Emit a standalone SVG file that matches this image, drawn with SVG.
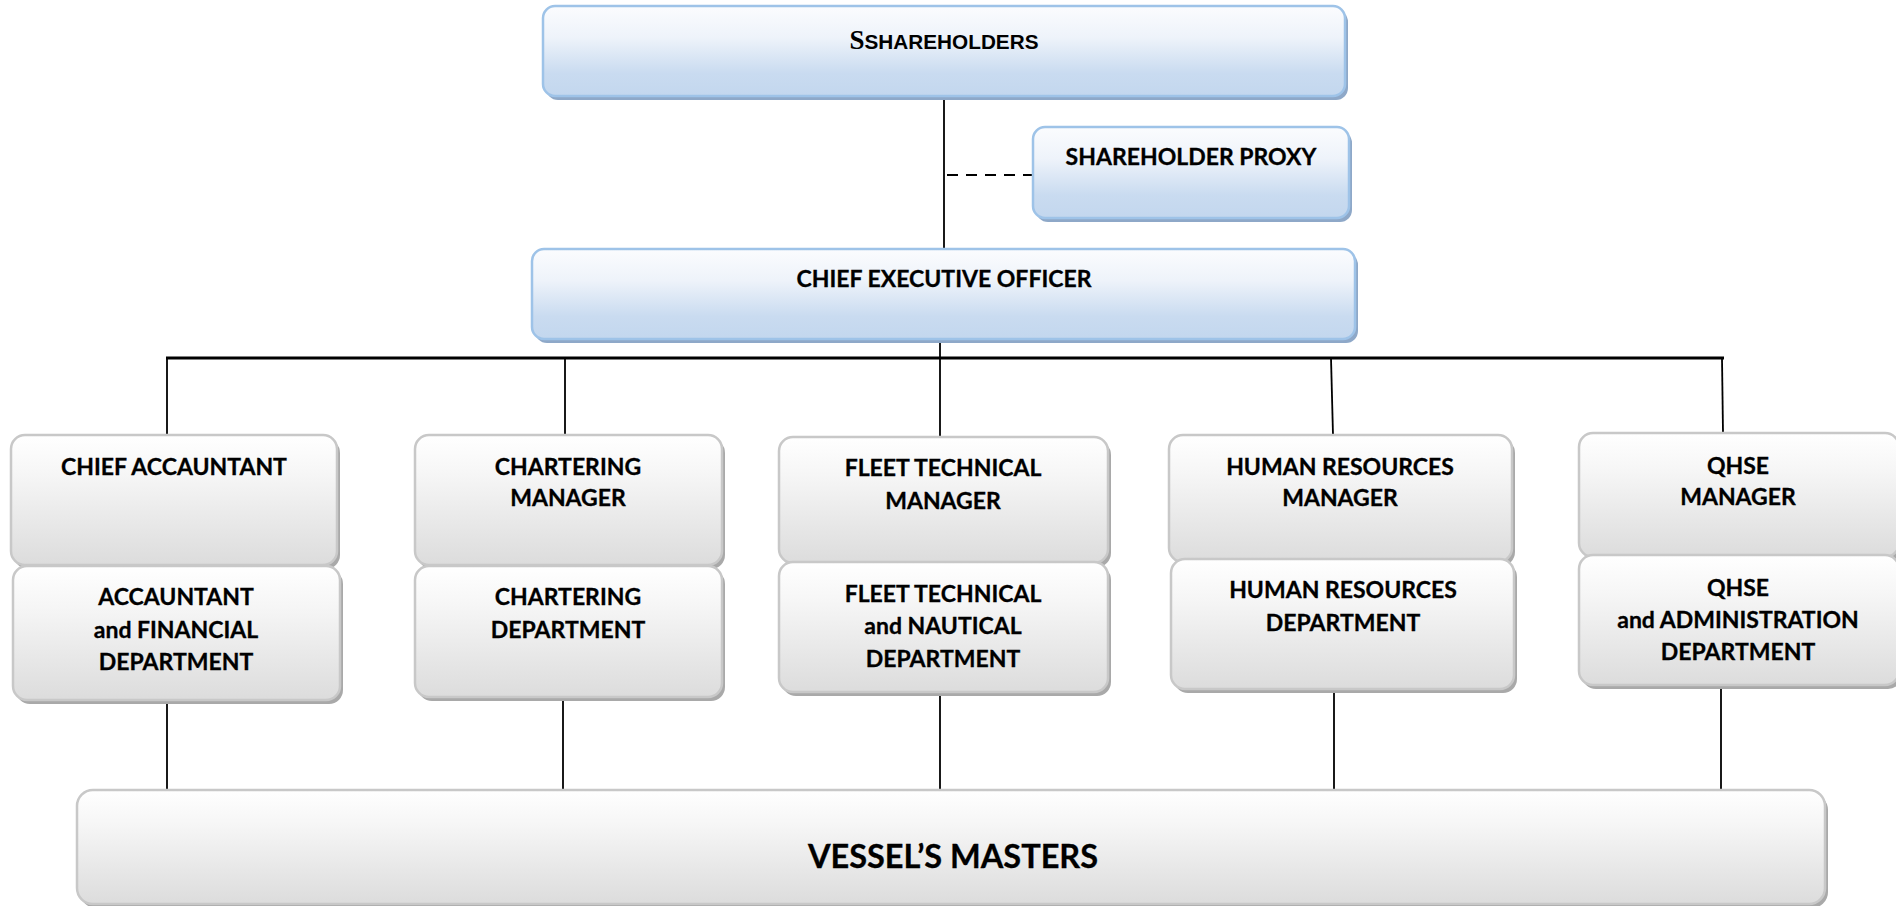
<svg xmlns="http://www.w3.org/2000/svg" width="1896" height="906" viewBox="0 0 1896 906">
<defs>
<linearGradient id="gb" x1="0" y1="0" x2="0" y2="1">
<stop offset="0" stop-color="#fbfcfe"/>
<stop offset="0.35" stop-color="#eef3fa"/>
<stop offset="0.75" stop-color="#c9dbf0"/>
<stop offset="1" stop-color="#c3d7ee"/>
</linearGradient>
<linearGradient id="gg" x1="0" y1="0" x2="0" y2="1">
<stop offset="0" stop-color="#ffffff"/>
<stop offset="0.3" stop-color="#f6f6f6"/>
<stop offset="1" stop-color="#dcdcdc"/>
</linearGradient>
<style>
.bs{fill:#8ea8c8}
.bb{fill:url(#gb);stroke:#9ec3e8;stroke-width:2.5}
.gs{fill:#a9a9a9}
.gb{fill:url(#gg);stroke:#c8c8c8;stroke-width:2.5}
.t{font-family:Lato,"Liberation Sans",sans-serif;font-weight:bold;font-size:23px;fill:#000;text-anchor:middle;stroke:#000;stroke-width:0.3}
.c{stroke:#000;stroke-width:1.8;fill:none}
</style>
</defs>
<g id="connectors">
<line class="c" x1="944" y1="97" x2="944" y2="249"/>
<line class="c" x1="947" y1="175" x2="1033" y2="175" stroke-dasharray="11,8"/>
<line class="c" x1="940" y1="340" x2="940" y2="358"/>
<line x1="166" y1="358" x2="1724" y2="358" stroke="#000" stroke-width="3"/>
<line class="c" x1="167" y1="358" x2="167" y2="435"/>
<line class="c" x1="565" y1="358" x2="565" y2="435"/>
<line class="c" x1="940" y1="358" x2="940" y2="437"/>
<line class="c" x1="1331" y1="358" x2="1333" y2="435"/>
<line class="c" x1="1722" y1="358" x2="1723" y2="433"/>
<line class="c" x1="167" y1="701" x2="167" y2="790"/>
<line class="c" x1="563" y1="698" x2="563" y2="790"/>
<line class="c" x1="940" y1="693" x2="940" y2="790"/>
<line class="c" x1="1334" y1="690" x2="1334" y2="790"/>
<line class="c" x1="1721" y1="686" x2="1721" y2="790"/>
</g>
<g id="shareholders">
<rect class="bs" x="546" y="10" width="802" height="90" rx="12"/>
<rect class="bb" x="543" y="6" width="802" height="90" rx="12"/>
<text x="944" y="49" text-anchor="middle" font-weight="bold" fill="#000"><tspan font-family="'Liberation Serif',serif" font-size="27px">S</tspan><tspan font-family="'Liberation Sans',sans-serif" font-size="21px" textLength="174" lengthAdjust="spacingAndGlyphs">SHAREHOLDERS</tspan></text>
</g>
<g id="proxy">
<rect class="bs" x="1036" y="131" width="316" height="91" rx="12"/>
<rect class="bb" x="1033" y="127" width="316" height="91" rx="12"/>
<text class="t" x="1191" y="165">SHAREHOLDER PROXY</text>
</g>
<g id="ceo">
<rect class="bs" x="535" y="253" width="823" height="90" rx="12"/>
<rect class="bb" x="532" y="249" width="823" height="90" rx="12"/>
<text class="t" x="944" y="287">CHIEF EXECUTIVE OFFICER</text>
</g>
<g id="chief-accountant">
<rect class="gs" x="14" y="439" width="326" height="130" rx="14"/>
<rect class="gb" x="11" y="435" width="326" height="130" rx="14"/>
<text class="t" x="174" y="475">CHIEF ACCAUNTANT</text>
</g>
<g id="accountant-dept">
<rect class="gs" x="16" y="570" width="327" height="134" rx="14"/>
<rect class="gb" x="13" y="566" width="327" height="134" rx="14"/>
<text class="t" x="176" y="605">ACCAUNTANT</text>
<text class="t" x="176" y="638">and FINANCIAL</text>
<text class="t" x="176" y="670">DEPARTMENT</text>
</g>
<g id="chartering-manager">
<rect class="gs" x="418" y="439" width="307" height="130" rx="14"/>
<rect class="gb" x="415" y="435" width="307" height="130" rx="14"/>
<text class="t" x="568" y="475">CHARTERING</text>
<text class="t" x="568" y="506">MANAGER</text>
</g>
<g id="chartering-dept">
<rect class="gs" x="418" y="570" width="307" height="131" rx="14"/>
<rect class="gb" x="415" y="566" width="307" height="131" rx="14"/>
<text class="t" x="568" y="605">CHARTERING</text>
<text class="t" x="568" y="638">DEPARTMENT</text>
</g>
<g id="fleet-manager">
<rect class="gs" x="782" y="441" width="329" height="126" rx="14"/>
<rect class="gb" x="779" y="437" width="329" height="126" rx="14"/>
<text class="t" x="943" y="476">FLEET TECHNICAL</text>
<text class="t" x="943" y="509">MANAGER</text>
</g>
<g id="fleet-dept">
<rect class="gs" x="782" y="566" width="329" height="130" rx="14"/>
<rect class="gb" x="779" y="562" width="329" height="130" rx="14"/>
<text class="t" x="943" y="602">FLEET TECHNICAL</text>
<text class="t" x="943" y="634">and NAUTICAL</text>
<text class="t" x="943" y="667">DEPARTMENT</text>
</g>
<g id="hr-manager">
<rect class="gs" x="1172" y="439" width="343" height="127" rx="14"/>
<rect class="gb" x="1169" y="435" width="343" height="127" rx="14"/>
<text class="t" x="1340" y="475">HUMAN RESOURCES</text>
<text class="t" x="1340" y="506">MANAGER</text>
</g>
<g id="hr-dept">
<rect class="gs" x="1174" y="563" width="343" height="130" rx="14"/>
<rect class="gb" x="1171" y="559" width="343" height="130" rx="14"/>
<text class="t" x="1343" y="598">HUMAN RESOURCES</text>
<text class="t" x="1343" y="631">DEPARTMENT</text>
</g>
<g id="qhse-manager">
<rect class="gs" x="1582" y="437" width="320" height="124" rx="14"/>
<rect class="gb" x="1579" y="433" width="320" height="124" rx="14"/>
<text class="t" x="1738" y="474">QHSE</text>
<text class="t" x="1738" y="505">MANAGER</text>
</g>
<g id="qhse-dept">
<rect class="gs" x="1582" y="559" width="320" height="130" rx="14"/>
<rect class="gb" x="1579" y="555" width="320" height="130" rx="14"/>
<text class="t" x="1738" y="596">QHSE</text>
<text class="t" x="1738" y="628">and ADMINISTRATION</text>
<text class="t" x="1738" y="660">DEPARTMENT</text>
</g>
<g id="vessels-masters">
<rect class="gs" x="80" y="794" width="1748" height="114" rx="16"/>
<rect class="gb" x="77" y="790" width="1748" height="114" rx="16"/>
<text class="t" x="953" y="868" style="font-size:32.5px">VESSEL’S MASTERS</text>
</g>
</svg>
